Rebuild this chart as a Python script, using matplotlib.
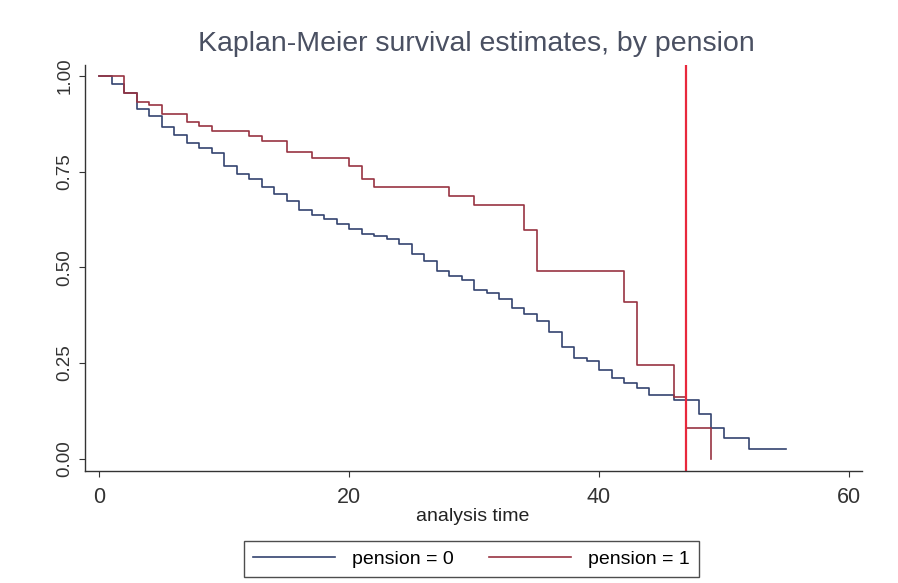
import numpy as np
import matplotlib
matplotlib.use('Agg')
import matplotlib.pyplot as plt

# Kaplan-Meier step estimates
times_0 = [0, 1, 2, 3, 4, 5, 6, 7, 8, 9, 10, 11, 12, 13, 14, 15, 16, 17, 18, 19,
           20, 21, 22, 23, 24, 25, 26, 27, 28, 29, 30, 31, 32, 33, 34, 35, 36, 37,
           38, 39, 40, 41, 42, 43, 44, 46, 48, 49, 50, 52, 55]
surv_0 = [1.0, 0.980, 0.956, 0.913, 0.895, 0.867, 0.846, 0.825, 0.811, 0.799,
          0.764, 0.743, 0.730, 0.710, 0.693, 0.673, 0.651, 0.638, 0.627, 0.614,
          0.601, 0.587, 0.581, 0.575, 0.562, 0.536, 0.516, 0.490, 0.478, 0.468,
          0.441, 0.433, 0.418, 0.393, 0.379, 0.359, 0.331, 0.293, 0.263, 0.254,
          0.232, 0.210, 0.199, 0.184, 0.167, 0.154, 0.116, 0.079, 0.053, 0.025,
          0.025]

times_1 = [0, 2, 3, 4, 5, 7, 8, 9, 12, 13, 15, 17, 20, 21, 22, 28, 30, 34, 35,
           42, 43, 46, 47, 49]
surv_1 = [1.0, 0.956, 0.933, 0.924, 0.902, 0.880, 0.869, 0.856, 0.843, 0.830,
          0.802, 0.785, 0.766, 0.730, 0.710, 0.686, 0.664, 0.597, 0.491, 0.409,
          0.245, 0.162, 0.079, 0.0]

ref_time = 47
x_ticks = [0, 20, 40, 60]
y_ticks = [0.0, 0.25, 0.50, 0.75, 1.00]
y_labels = ['0.00', '0.25', '0.50', '0.75', '1.00']

plt.rcParams['font.family'] = ['Liberation Sans', 'DejaVu Sans']

W, H = 898, 583
fig = plt.figure(figsize=(W / 100, H / 100), dpi=100)
fig.patch.set_facecolor('white')
ax = fig.add_axes([84.5 / W, 1 - 470.5 / H, (861.7 - 84.5) / W, (470.5 - 65) / H])

navy = '#34436f'
maroon = '#983442'
ax.plot(times_0, surv_0, drawstyle='steps-post', color=navy, lw=1.2, label='pension = 0')
ax.plot(times_1, surv_1, drawstyle='steps-post', color=maroon, lw=1.2, label='pension = 1')
ax.axvline(ref_time, color='#e8283c', lw=1.6)

ax.set_xlim(-1.2, 61.03)
ax.set_ylim(-0.031, 1.029)
ax.set_xticks(x_ticks)
ax.set_yticks(y_ticks)
ax.set_yticklabels(y_labels)

for side in ['top', 'right']:
    ax.spines[side].set_visible(False)
for side in ['left', 'bottom']:
    ax.spines[side].set_color('#333333')
    ax.spines[side].set_linewidth(1.0)

ax.tick_params(axis='x', direction='out', length=4, width=0.8, colors='#333333',
               labelsize=15.5, pad=8)
ax.tick_params(axis='y', direction='out', length=4, width=0.8, colors='#333333',
               labelsize=13.5, pad=4, labelrotation=90)
for lab in ax.get_yticklabels():
    lab.set_va('center')

ax.set_xlabel('analysis time', fontsize=14, color='#222222', labelpad=0)

fig.text(476 / W, 1 - 44 / H, 'Kaplan-Meier survival estimates, by pension',
         ha='center', va='center', fontsize=20.5, color='#4a5062')

leg = fig.legend(loc='center', bbox_to_anchor=(471.5 / W, 1 - 559 / H), ncol=2,
                 fontsize=14, frameon=True, fancybox=False, edgecolor='#222222',
                 handlelength=4.2, handletextpad=0.9, columnspacing=1.8,
                 borderpad=0.45)
leg.get_frame().set_linewidth(1.0)

fig.savefig('out.png', dpi=100, facecolor='white')
